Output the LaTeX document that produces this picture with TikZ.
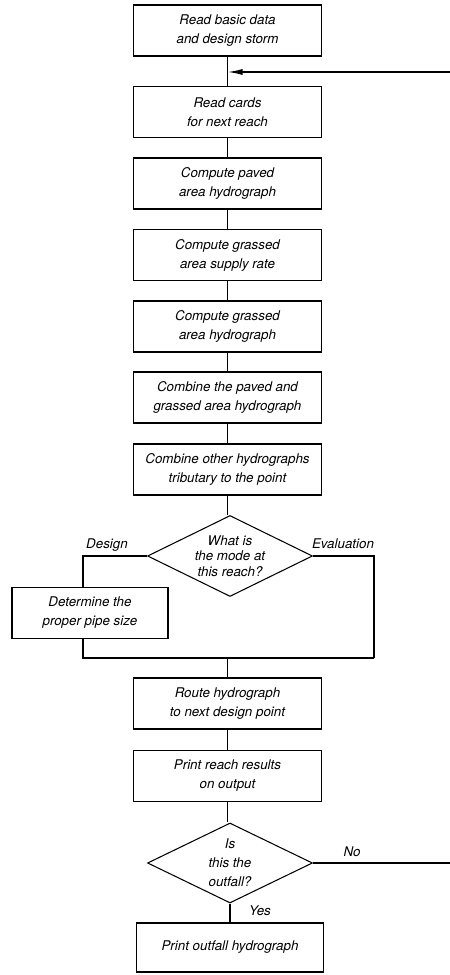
\documentclass[tikz,border=0pt]{standalone}
\usepackage{fontspec}
\setmainfont{TeX Gyre Heros}
\usetikzlibrary{shapes.geometric,arrows.meta}

\begin{document}
\begin{tikzpicture}[
  box/.style={draw, line width=0.6pt, minimum width=3.75cm, minimum height=1.02cm, align=center, font=\fontsize{7.6}{10.8}\selectfont\itshape},
  ask/.style={draw, diamond, shape aspect=2, line width=0.6pt, minimum width=3.3cm, minimum height=1.62cm, inner sep=0pt, align=center, font=\fontsize{7.6}{10.8}\selectfont\itshape},
  tag/.style={font=\fontsize{7.6}{9}\selectfont\itshape},
  link/.style={line width=0.9pt}
]
\useasboundingbox (0,0) rectangle (9,19.5);
\node[box] (data) at (4.55,18.89) {Read basic data\\and design storm};
\node[box] (cards) at (4.55,17.26) {Read cards\\for next reach};
\node[box] (paved) at (4.55,15.83) {Compute paved\\area hydrograph};
\node[box] (supply) at (4.55,14.40) {Compute grassed\\area supply rate};
\node[box] (grassed) at (4.55,12.97) {Compute grassed\\area hydrograph};
\node[box] (combine) at (4.55,11.55) {Combine the paved and\\grassed area hydrograph};
\node[box] (tributary) at (4.55,10.11) {Combine other hydrographs\\tributary to the point};
\node[ask, font=\fontsize{7.6}{8.8}\selectfont\itshape] (mode) at (4.6,8.38) {What is\\the mode at\\this reach?};
\node[box, minimum width=3.12cm] (pipe) at (1.8,7.24) {Determine the\\proper pipe size};
\node[box] (route) at (4.55,5.43) {Route hydrograph\\to next design point};
\node[box] (results) at (4.55,3.98) {Print reach results\\on output};
\node[ask, minimum height=1.6cm] (outfall) at (4.6,2.24) {Is\\this the\\outfall?};
\node[box, minimum height=0.98cm] (final) at (4.6,0.55) {Print outfall hydrograph};
% branch labels
\node[tag] (design) at (2.14,8.6) {Design};
\node[tag] (evaluation) at (6.86,8.62) {Evaluation};
\node[tag] (no) at (7.04,2.46) {No};
\node[tag] (yes) at (5.2,1.28) {Yes};
% free ends and corners
\coordinate (loop) at (4.55,18.06);
\coordinate (back) at (9,18.06);
\coordinate (join) at (4.55,6.34);
\coordinate (evalcorner) at (7.48,6.34);
\coordinate (noend) at (9,2.24);
\draw[link] (data) -- (cards);
\draw[link] (cards) -- (paved);
\draw[link] (paved) -- (supply);
\draw[link] (supply) -- (grassed);
\draw[link] (grassed) -- (combine);
\draw[link] (combine) -- (tributary);
\draw[link] (tributary) -- (mode.north -| tributary.south);
\draw[link] (mode.west) -| ([xshift=-1.4mm]pipe.north);
\draw[link] ([xshift=-1.4mm]pipe.south) |- (evalcorner);
\draw[link] (mode.east) -| (evalcorner);
\draw[link] (join) -- (route);
\draw[link] (route) -- (results);
\draw[link] (results) -- (outfall.north -| results.south);
\draw[link] (outfall.east) -- (noend);
\draw[link] (outfall.south) -- (final);
\draw[link, -{Latex[length=3mm,width=1.2mm]}] (back) -- (loop);
\end{tikzpicture}
\end{document}
